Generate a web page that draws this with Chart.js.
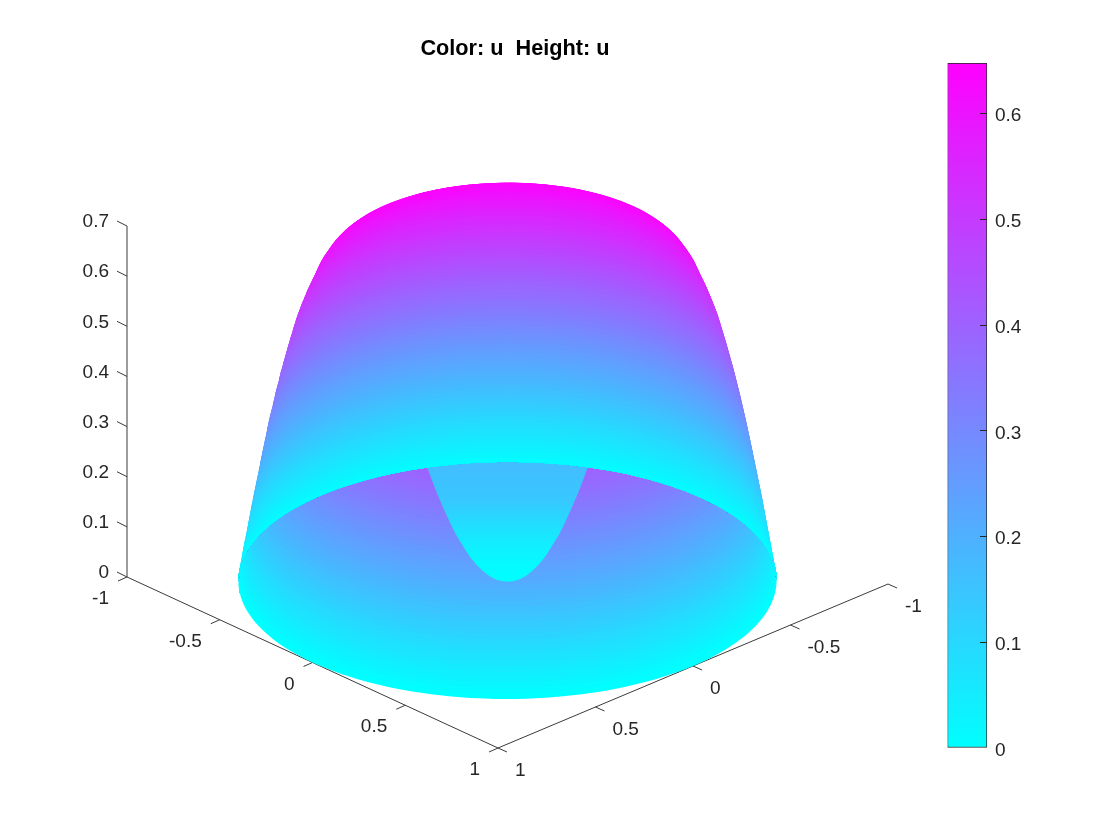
<!DOCTYPE html>
<html>
<head>
<meta charset="utf-8">
<title>Color: u  Height: u</title>
<script src="https://cdn.jsdelivr.net/npm/chart.js@4"></script>
<style>
  html, body { margin: 0; background: #fff; }
  #wrap { position: relative; width: 1120px; height: 840px; overflow: hidden; }
  canvas { position: absolute; top: 0; }
  #surface { left: 0; }
  #colorbar { left: 930px; }
</style>
</head>
<body>
<div id="wrap">
  <canvas id="surface" width="1030" height="840"></canvas>
  <canvas id="colorbar" width="190" height="840"></canvas>
</div>
<script>
const titleText = "Color: u  Height: u";

// axis ticks
const xTicks = [-1, -0.5, 0, 0.5, 1];
const xTickLabels = ["-1", "-0.5", "0", "0.5", "1"];
const yTicks = [-1, -0.5, 0, 0.5, 1];
const yTickLabels = ["-1", "-0.5", "0", "0.5", "1"];
const zTicks = [0, 0.1, 0.2, 0.3, 0.4, 0.5, 0.6, 0.7];
const zTickLabels = ["0", "0.1", "0.2", "0.3", "0.4", "0.5", "0.6", "0.7"];
const colorbarTicks = [0, 0.1, 0.2, 0.3, 0.4, 0.5, 0.6];
const colorbarRange = [0, 0.648];

// surface: height u and the radius of the level curve at that height
const surfaceU = [
  0, 0.01, 0.02, 0.03, 0.04, 0.05, 0.06, 0.07, 0.08, 0.09, 0.1,
  0.11, 0.12, 0.13, 0.14, 0.15, 0.16, 0.17, 0.18, 0.19, 0.2,
  0.21, 0.22, 0.23, 0.24, 0.25, 0.26, 0.27, 0.28, 0.29, 0.3,
  0.31, 0.32, 0.33, 0.34, 0.35, 0.36, 0.37, 0.38, 0.39, 0.4,
  0.41, 0.42, 0.43, 0.44, 0.45, 0.46, 0.47, 0.48, 0.49, 0.5,
  0.51, 0.52, 0.53, 0.54, 0.55, 0.56, 0.57, 0.58, 0.59, 0.6,
  0.61, 0.62, 0.625, 0.63, 0.635, 0.64, 0.645, 0.65
];
const surfaceR = [
  1, 0.9965, 0.993, 0.9895, 0.986, 0.9825, 0.979, 0.9755, 0.972, 0.9685, 0.965,
  0.9615, 0.958, 0.9545, 0.951, 0.9475, 0.9437, 0.9399, 0.9361, 0.9323, 0.9285,
  0.9247, 0.9209, 0.9171, 0.9133, 0.9095, 0.9055, 0.9015, 0.8975, 0.8935, 0.8895,
  0.8852, 0.8809, 0.8766, 0.8723, 0.868, 0.8633, 0.8586, 0.8539, 0.8492, 0.8445,
  0.8393, 0.8341, 0.8289, 0.8237, 0.8185, 0.8129, 0.8073, 0.8017, 0.7961, 0.7905,
  0.7835, 0.7765, 0.769, 0.7615, 0.7535, 0.745, 0.736, 0.727, 0.719, 0.71,
  0.698, 0.685, 0.678, 0.67, 0.66, 0.648, 0.628, 0.6
];

// the slit seen from below: depth on screen, half width, colour stops
const slitDepth = [-125.8, -112.8, -98.8, -83.8, -67.8, -48.8, -33.8, -23.8, -14.8, -7.8, -2.8, -0.3, 1.2];
const slitHalfWidth = [84, 80, 75, 69, 62, 53, 44, 37.5, 30, 22.5, 15, 9, 0];
const slitStopDepth = [-112, -80, -40, -15, 2];
const slitStopU = [0.165, 0.14, 0.05, 0.01, 0];

// projection of the box corners on the page
const cornerA = { x: 127, y: 577 };
const cornerB = { x: 498, y: 748 };
const cornerC = { x: 888, y: 584 };
const zPixels = 501.4;

const ex = { x: (cornerB.x - cornerA.x) / 2, y: (cornerB.y - cornerA.y) / 2 };
const ey = { x: (cornerB.x - cornerC.x) / 2, y: (cornerB.y - cornerC.y) / 2 };
const origin = { x: (cornerA.x + cornerC.x) / 2, y: (cornerA.y + cornerC.y) / 2 };

function project(x, y, z) {
  return {
    x: origin.x + x * ex.x + y * ey.x,
    y: origin.y + x * ex.y + y * ey.y - z * zPixels
  };
}

function cool(u) {
  const t = Math.min(u / colorbarRange[1], 1);
  return `rgb(${Math.round(255 * t)},${Math.round(255 * (1 - t))},255)`;
}

const phi = Math.atan2(-ey.x, ex.x);

function arc(u, r, from, to, steps) {
  const pts = [];
  for (let i = 0; i <= steps; i++) {
    const t = from + ((to - from) * i) / steps - phi;
    pts.push(project(r * Math.cos(t), r * Math.sin(t), u));
  }
  return pts;
}

function filled(data, color, tension) {
  return {
    data,
    showLine: true,
    fill: "shape",
    backgroundColor: color,
    borderWidth: 0,
    pointRadius: 0,
    tension: tension || 0
  };
}

// painter's order, first entry is furthest back
const layers = [];

// axes with their tick marks
const axisPts = [];
function seg(a, b) {
  axisPts.push(a, b, { x: NaN, y: NaN });
}
seg(cornerA, { x: cornerA.x, y: cornerA.y - 0.7 * zPixels });
seg(cornerA, cornerB);
seg(cornerC, cornerB);
zTicks.forEach((z) => {
  const y = cornerA.y - z * zPixels;
  seg({ x: cornerA.x, y }, { x: cornerA.x - 10, y: y - 5 });
});
xTicks.forEach((v) => {
  const p = project(v, 1, 0);
  seg(p, { x: p.x - 9, y: p.y + 4 });
});
yTicks.forEach((v) => {
  const p = project(1, v, 0);
  seg(p, { x: p.x + 9, y: p.y + 4 });
});
layers.push({
  data: axisPts,
  showLine: true,
  fill: false,
  borderColor: "#3a3a3a",
  borderWidth: 1,
  pointRadius: 0
});

// inside of the far wall, low rings first
surfaceU.forEach((u, i) => {
  layers.push(filled(arc(u, surfaceR[i], 0, 2 * Math.PI, 180), cool(u)));
});

// the part next to the slit
const slitPts = [];
slitDepth.forEach((d, i) => {
  slitPts.push({ x: origin.x - slitHalfWidth[i], y: origin.y + d });
});
for (let i = slitDepth.length - 2; i >= 0; i--) {
  slitPts.push({ x: origin.x + slitHalfWidth[i], y: origin.y + slitDepth[i] });
}
const slitLayer = filled(slitPts, cool(0.1), 0.3);
layers.push(slitLayer);

// outside of the near wall, top ring first, closed down the outline and along the near rim
const rimTop = arc(0, 1, 2 * Math.PI, Math.PI, 120);
for (let i = surfaceU.length - 1; i >= 1; i--) {
  let pts = arc(surfaceU[i], surfaceR[i], Math.PI, 2 * Math.PI, 120);
  for (let j = i - 1; j >= 1; j--) {
    pts.push(arc(surfaceU[j], surfaceR[j], 2 * Math.PI, 2 * Math.PI, 1)[0]);
  }
  pts = pts.concat(rimTop);
  for (let j = 1; j < i; j++) {
    pts.push(arc(surfaceU[j], surfaceR[j], Math.PI, Math.PI, 1)[0]);
  }
  layers.push(filled(pts, cool(surfaceU[i])));
}

const slitGradientPlugin = {
  id: "slitGradient",
  afterLayout(chart) {
    const last = slitStopDepth.length - 1;
    const y0 = chart.scales.y.getPixelForValue(origin.y + slitStopDepth[0]);
    const y1 = chart.scales.y.getPixelForValue(origin.y + slitStopDepth[last]);
    const g = chart.ctx.createLinearGradient(0, y0, 0, y1);
    slitStopDepth.forEach((d, i) => {
      g.addColorStop((d - slitStopDepth[0]) / (slitStopDepth[last] - slitStopDepth[0]), cool(slitStopU[i]));
    });
    slitLayer.backgroundColor = g;
  }
};

const tickLabelPlugin = {
  id: "tickLabels",
  afterDraw(chart) {
    const { ctx, scales } = chart;
    const px = (p) => ({ x: scales.x.getPixelForValue(p.x), y: scales.y.getPixelForValue(p.y) });
    ctx.save();
    ctx.font = '19px "Liberation Sans"';
    ctx.fillStyle = "#262626";
    ctx.textBaseline = "middle";
    ctx.textAlign = "right";
    zTicks.forEach((z, i) => {
      const p = px({ x: cornerA.x, y: cornerA.y - z * zPixels });
      ctx.fillText(zTickLabels[i], p.x - 18, p.y - 4);
    });
    xTicks.forEach((v, i) => {
      const p = px(project(v, 1, 0));
      ctx.fillText(xTickLabels[i], p.x - 18, p.y + 22);
    });
    ctx.textAlign = "left";
    yTicks.forEach((v, i) => {
      const p = px(project(1, v, 0));
      ctx.fillText(yTickLabels[i], p.x + 17, p.y + 23);
    });
    ctx.restore();
  }
};

const surfaceChart = new Chart(document.getElementById("surface").getContext("2d"), {
  type: "scatter",
  data: { datasets: layers.reverse() },
  options: {
    responsive: false,
    animation: false,
    events: [],
    scales: {
      x: { type: "linear", display: false, min: 0, max: 1030 },
      y: { type: "linear", display: false, min: 62.04, max: 840, reverse: true }
    },
    plugins: {
      legend: { display: false },
      tooltip: { enabled: false },
      title: {
        display: true,
        text: titleText,
        color: "#000",
        font: { family: '"Liberation Sans"', size: 21.7, weight: "bold", lineHeight: 1.2 },
        padding: { top: 36, bottom: 0 }
      }
    }
  },
  plugins: [slitGradientPlugin, tickLabelPlugin]
});

const colorbarChart = new Chart(document.getElementById("colorbar").getContext("2d"), {
  type: "bar",
  data: {
    labels: ["u"],
    datasets: [{
      data: [colorbarRange],
      barPercentage: 1,
      categoryPercentage: 1,
      borderColor: "#262626",
      borderWidth: 1,
      borderSkipped: false,
      backgroundColor(ctx) {
        const area = ctx.chart.chartArea;
        if (!area || !isFinite(area.top)) return cool(0);
        const g = ctx.chart.ctx.createLinearGradient(0, area.bottom, 0, area.top);
        g.addColorStop(0, cool(colorbarRange[0]));
        g.addColorStop(1, cool(colorbarRange[1]));
        return g;
      }
    }]
  },
  options: {
    responsive: false,
    animation: false,
    events: [],
    layout: { padding: { left: 17.5, top: 63, bottom: 92 } },
    scales: {
      x: { display: false },
      y: {
        position: "right",
        min: colorbarRange[0],
        max: colorbarRange[1],
        afterBuildTicks(scale) {
          scale.ticks = colorbarTicks.map((value) => ({ value }));
        },
        afterFit(scale) {
          scale.width = 133;
        },
        border: { display: false },
        grid: {
          drawOnChartArea: false,
          color: (ctx) => (ctx.tick && ctx.tick.value === 0 ? "rgba(0,0,0,0)" : "#262626"),
          tickLength: -7,
          z: 1
        },
        ticks: {
          color: "#262626",
          font: { family: '"Liberation Sans"', size: 19 },
          padding: 15,
          labelOffset: 2.5,
          callback: (v) => String(v)
        }
      }
    },
    plugins: { legend: { display: false }, tooltip: { enabled: false } }
  }
});
</script>
</body>
</html>
